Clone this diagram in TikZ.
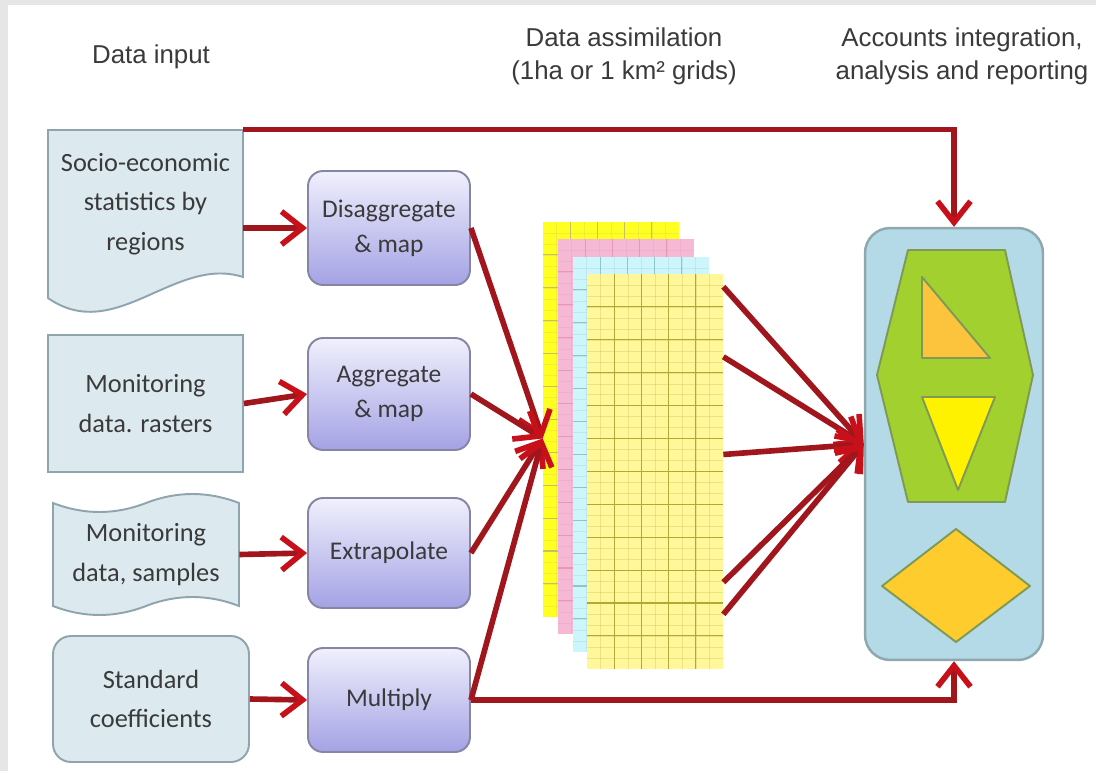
\documentclass[tikz,border=0pt]{standalone}
\usepackage{fontspec}
\setmainfont{Carlito}
\newfontfamily\headfont{Liberation Sans}
\usetikzlibrary{arrows.meta,positioning,calc}

\definecolor{frame}{HTML}{E6E6E6}
\definecolor{inblue}{HTML}{DCEAF0}
\definecolor{inedge}{HTML}{8FA5AD}
\definecolor{proctop}{HTML}{F0F0FD}
\definecolor{procbot}{HTML}{A4A2E4}
\definecolor{procedge}{HTML}{8686A4}
\definecolor{linered}{HTML}{A0161C}
\definecolor{tipred}{HTML}{C8101A}
\definecolor{txtgrey}{HTML}{3A3A3A}
\definecolor{accblue}{HTML}{B3DAE6}
\definecolor{accedge}{HTML}{8EA8AE}
\definecolor{hexgreen}{HTML}{A2D12F}
\definecolor{shapeedge}{HTML}{7F9A55}
\definecolor{triorange}{HTML}{FCC43C}
\definecolor{diagold}{HTML}{FFCC2E}
\definecolor{gridyellow}{HTML}{FFFF22}
\definecolor{gridpink}{HTML}{F5B8D5}
\definecolor{gridcyan}{HTML}{CCF5FC}
\definecolor{gridfront}{HTML}{FFF79A}

\tikzset{
  inbox/.style={fill=inblue, draw=inedge, line width=1.1pt},
  intext/.style={text=txtgrey, align=center, inner sep=0pt,
    font=\fontsize{15}{22.5}\selectfont},
  procbox/.style={draw=procedge, line width=1.1pt, rounded corners=0.3cm,
    top color=proctop, bottom color=procbot, text=txtgrey, align=center,
    font=\fontsize{14.5}{19.8}\selectfont, minimum width=3.24cm, inner sep=0pt},
  headtext/.style={text=txtgrey, align=center,
    font=\headfont\fontsize{14.7}{18.7}\selectfont},
  layer/.style={minimum width=2.72cm, minimum height=7.9cm, inner sep=0pt},
  redline/.style={draw=linered, line width=3.2pt},
  redarrow/.style={redline, -{Straight Barb[length=0.42cm, width=0.66cm, color=tipred]}},
  figedge/.style={draw=shapeedge, line width=1.1pt, line join=round},
}

\begin{document}
\begin{tikzpicture}[x=0.02cm, y=-0.02cm]
  % frame
  \fill[frame] (0,0) rectangle (1096,771);
  \fill[white] (8,5) rectangle (1096,771);
  \useasboundingbox (0,0) rectangle (1096,771);

  % Column titles
  \node[headtext] (hin) at (151,57) {Data input};
  \node[headtext] (hgrid) at (624,56) {Data assimilation\\(1ha or 1 km² grids)};
  \node[headtext] (hacc) at (962,56) {Accounts integration,\\analysis and reporting};

  % Data input boxes
  \path[inbox] (48,130) -- (243,130) -- (243,277)
    .. controls (175,255) and (115,345) .. (48,298) -- cycle;
  \node[intext, minimum width=3.9cm, minimum height=2.96cm] (soc) at (145.5,204)
    {Socio-economic\\statistics by\\regions};
  \node[inbox, intext, minimum width=3.9cm, minimum height=2.74cm] (ras) at (145.5,403.5)
    {Monitoring\\data. rasters};
  \path[inbox] (53,503) .. controls (84,515) and (115,515) .. (146,503)
    .. controls (177,491) and (208,491) .. (239,503) -- (239,606)
    .. controls (208,594) and (177,594) .. (146,606)
    .. controls (115,618) and (84,618) .. (53,606) -- cycle;
  \node[intext, minimum width=3.72cm, minimum height=2.06cm] (smp) at (146,554.5)
    {Monitoring\\data, samples};
  \node[inbox, intext, rounded corners=0.36cm, minimum width=3.92cm, minimum height=2.52cm]
    (coef) at (151,699) {Standard\\coefficients};

  % Processing boxes
  \node[procbox, minimum height=2.28cm] (dis) at (389,228) {Disaggregate\\\& map};
  \node[procbox, minimum height=2.24cm] (agg) at (389,394) {Aggregate\\\& map};
  \node[procbox, minimum height=2.2cm] (ext) at (389,553) {Extrapolate};
  \node[procbox, minimum height=2.08cm] (mul) at (389,700) {Multiply};

  % Grid stack
  \foreach \n/\x/\y/\c/\l in {lay1/543/222/gridyellow/olive!50,
      lay2/558/239/gridpink/purple!40, lay3/573/257/gridcyan/teal!45,
      lay4/587/274/gridfront/olive!70} {
    \node[layer, fill=\c] (\n) at ({\x+68},{\y+197.5}) {};
    \foreach \i in {1,...,9}
      \draw[\l, line width=0.2pt, opacity=0.25] ({\x+\i*13.6},\y) -- ++(0,395);
    \foreach \j in {1,...,35}
      \draw[\l, line width=0.2pt, opacity=0.25] (\x,{\y+\j*10.97}) -- ++(136,0);
    \foreach \i in {1,...,4}
      \draw[\l, line width=0.6pt] ({\x+\i*27.2},\y) -- ++(0,395);
    \foreach \j in {1,...,11}
      \draw[\l, line width=0.6pt] (\x,{\y+\j*32.9}) -- ++(136,0);
  }
  \coordinate (gin) at ($(lay1.north west)!0.548!(lay1.south west)$);

  % Accounts
  \node[fill=accblue, draw=accedge, line width=1.4pt, rounded corners=0.5cm,
    minimum width=3.56cm, minimum height=8.64cm] (acc) at (954,444) {};
  \draw[figedge, fill=hexgreen] (908,250) -- (1005,250) -- (1033,375) -- (1005,502)
    -- (908,502) -- (877,375) -- cycle;
  \draw[figedge, fill=triorange] (922,277) -- (922,358) -- (990,358) -- cycle;
  \draw[figedge, fill=yellow] (922,397) -- (995,397) -- (958,490) -- cycle;
  \draw[figedge, fill=diagold] (882,586) -- (956,529) -- (1030,586) -- (956,642) -- cycle;

  % Connectors
  \draw[redarrow] (soc.east |- dis.west) -- (dis.west);
  \draw[redarrow] (ras.east) -- (agg.west);
  \draw[redarrow] (smp.east) -- (ext.west);
  \draw[redarrow] (coef.east) -- (mul.west);
  \foreach \b in {dis,agg,ext,mul}
    \draw[redarrow] (\b.east) -- (gin);
  \foreach \f in {0.033,0.21,0.457,0.78,0.861}
    \draw[redarrow] ($(lay4.north east)!\f!(lay4.south east)$) -- (acc.west);
  \draw[redarrow] (soc.north east) -| (acc.north);
  \draw[redarrow] (mul.east) -| (acc.south);
\end{tikzpicture}
\end{document}
